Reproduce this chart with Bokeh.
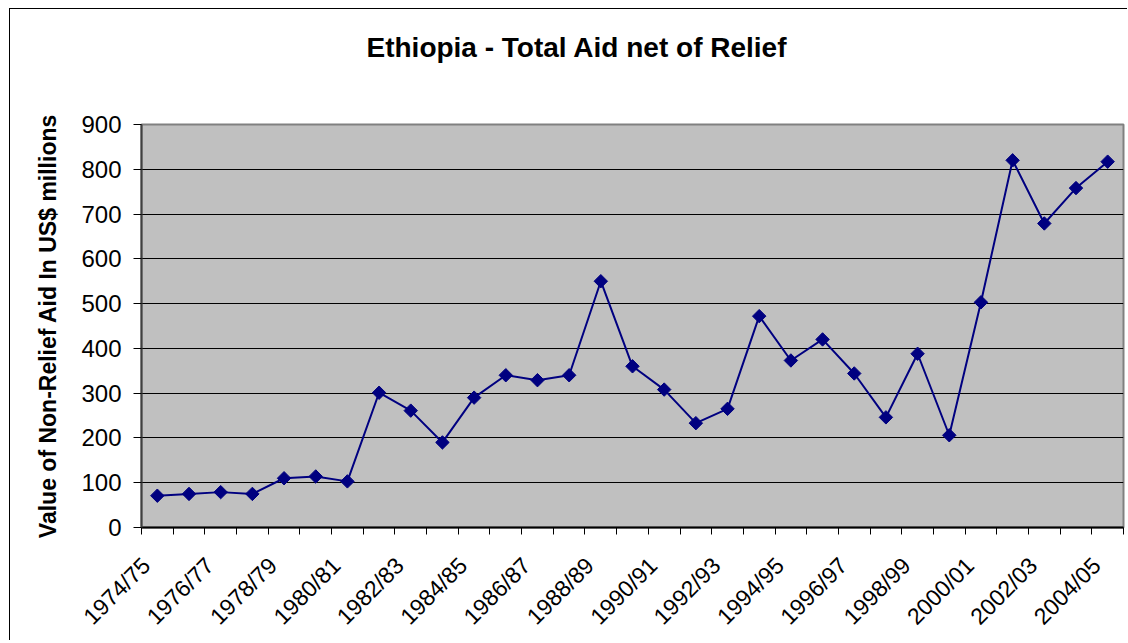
import numpy as np
from bokeh.plotting import figure
from bokeh.models import Range1d, FixedTicker, LinearAxis, Title
from bokeh.embed import file_html
from bokeh.resources import INLINE

years = ["1974/75", "1975/76", "1976/77", "1977/78", "1978/79", "1979/80",
         "1980/81", "1981/82", "1982/83", "1983/84", "1984/85", "1985/86",
         "1986/87", "1987/88", "1988/89", "1989/90", "1990/91", "1991/92",
         "1992/93", "1993/94", "1994/95", "1995/96", "1996/97", "1997/98",
         "1998/99", "1999/00", "2000/01", "2001/02", "2002/03", "2003/04",
         "2004/05"]
aid = [71, 75, 79, 75, 110, 114, 103, 301, 261, 190, 290, 340, 329, 340,
       550, 360, 308, 233, 265, 472, 373, 420, 344, 246, 388, 206, 503,
       820, 679, 758, 817]
y_ticks = [0, 100, 200, 300, 400, 500, 600, 700, 800, 900]
title_text = "Ethiopia - Total Aid net of Relief"

FONT = "Liberation Sans"
idx = list(range(len(years)))

p = figure(width=1118, height=632, output_backend="svg", toolbar_location=None,
           x_range=Range1d(-0.5, len(years) - 0.5), y_range=Range1d(0, 900),
           min_border_left=131, min_border_right=5, min_border_top=115,
           min_border_bottom=114)
p.styles = {"margin-left": "10px", "margin-top": "9px",
            "box-shadow": "-1px -1px 0px 0px black"}
p.background_fill_color = "#C0C0C0"
p.border_fill_color = "white"
p.outline_line_color = "#808080"
p.outline_line_width = 2

# grid
p.xgrid.visible = False
p.ygrid.grid_line_color = "black"
p.ygrid.grid_line_width = 1
p.ygrid.ticker = FixedTicker(ticks=y_ticks)

# y axis
p.yaxis.ticker = FixedTicker(ticks=y_ticks)
p.yaxis.axis_line_color = "#404040"
p.yaxis.axis_line_width = 2
p.yaxis.major_tick_line_color = "black"
p.yaxis.major_tick_out = 8
p.yaxis.major_tick_in = 0
p.yaxis.minor_tick_line_color = None
p.yaxis.major_label_text_font = FONT
p.yaxis.major_label_text_font_size = "24px"
p.yaxis.major_label_text_color = "black"
p.yaxis.major_label_standoff = 12
p.yaxis.axis_label = "Value of Non-Relief Aid In US$ millions"
p.yaxis.axis_label_text_font = FONT
p.yaxis.axis_label_text_font_size = "23px"
p.yaxis.axis_label_text_font_style = "bold"
p.yaxis.axis_label_text_color = "black"
p.yaxis.axis_label_standoff = 17

# x axis: labels every other category, ticks at category boundaries
label_idx = idx[::2]
label_pos = [i - 0.35 for i in label_idx]
p.xaxis.ticker = FixedTicker(ticks=label_pos,
                             minor_ticks=[i - 0.5 for i in range(len(years) + 1)])
p.xaxis.major_label_overrides = {pos: years[i] for pos, i in zip(label_pos, label_idx)}
p.xaxis.major_label_orientation = np.pi / 4
p.xaxis.major_tick_out = 0
p.xaxis.major_tick_in = 0
p.xaxis.minor_tick_out = 7
p.xaxis.minor_tick_in = 0
p.xaxis.minor_tick_line_color = "black"
p.xaxis.axis_line_color = "black"
p.xaxis.axis_line_width = 2
p.xaxis.major_label_text_font = FONT
p.xaxis.major_label_text_font_size = "23px"
p.xaxis.major_label_text_color = "black"
p.xaxis.major_label_standoff = 27

# invisible spacer axis above the frame, then the title outside it
spacer = LinearAxis(ticker=FixedTicker(ticks=[15]), axis_line_color=None,
                    major_tick_line_color=None, minor_tick_line_color=None,
                    major_tick_out=57, major_tick_in=0, major_label_standoff=0,
                    major_label_text_font_size="1px",
                    major_label_text_color=None,
                    major_label_overrides={15: " "})
p.add_layout(spacer, "above")
p.add_layout(Title(text=title_text, align="left", offset=225,
                   text_font=FONT, text_font_size="28px", text_font_style="bold",
                   text_color="black"), "above")

# data
p.line(idx, aid, line_color="#000080", line_width=2)
p.scatter(idx, aid, marker="square", angle=np.pi / 4, size=9.5,
          fill_color="#000080", line_color="#000080")

open("out.html", "w").write(file_html(p, INLINE))
